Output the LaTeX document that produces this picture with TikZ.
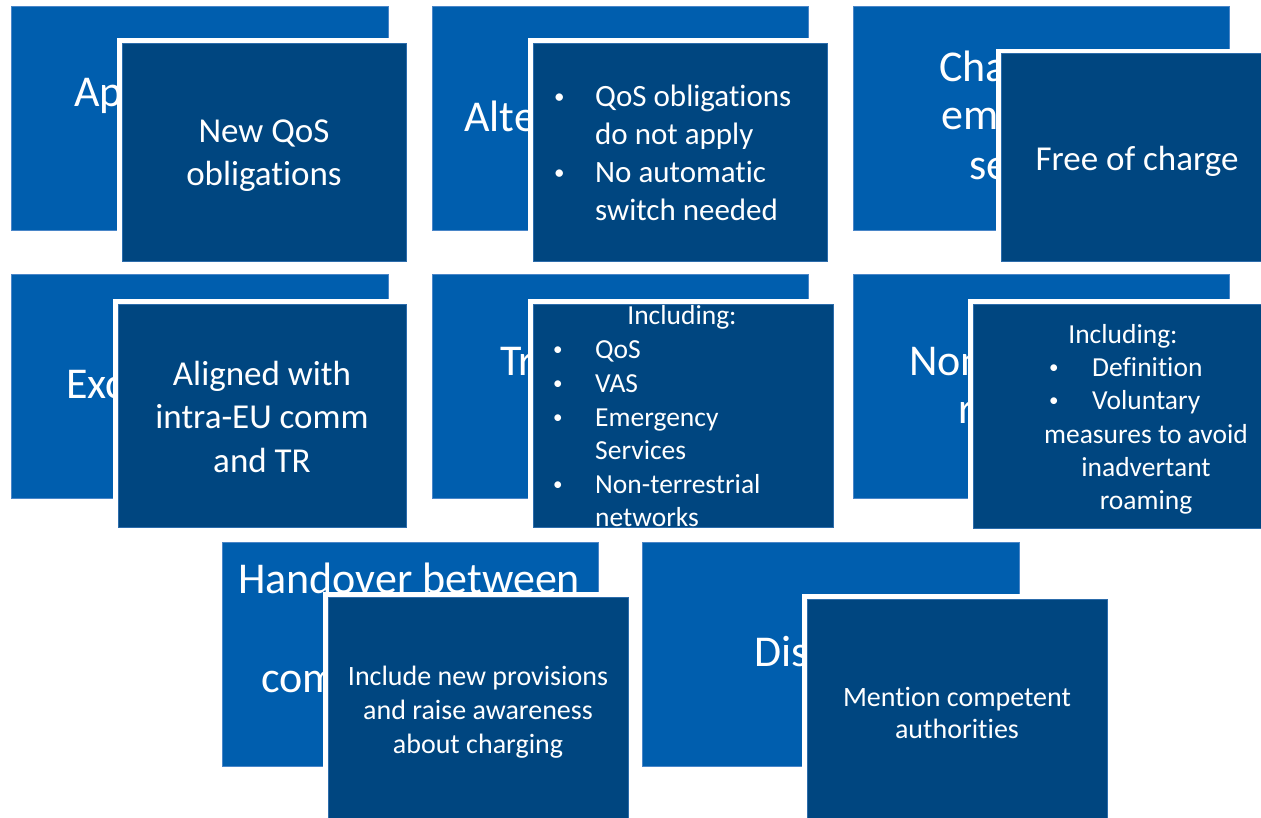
\documentclass[tikz,border=0pt]{standalone}
\usepackage{fontspec}
\setmainfont{Carlito}[Ligatures=NoCommon]
\definecolor{backblue}{HTML}{005EAE}
\definecolor{frontblue}{HTML}{004680}
\definecolor{edgeblue}{HTML}{4A86C8}
\begin{document}
\begin{tikzpicture}[x=1pt,y=-1pt,
  backbox/.style={fill=backblue,draw=edgeblue,line width=0.6pt,inner sep=0pt,outer sep=0pt,anchor=north west},
  frontbox/.style={fill=frontblue,draw=edgeblue!60!frontblue,line width=0.6pt,inner sep=0pt,outer sep=0pt,anchor=north west},
  halo/.style={fill=white,inner sep=0pt,outer sep=0pt,anchor=north west},
  backtxt/.style={text=white,font=\fontsize{44}{49}\selectfont,anchor=base west,inner sep=0pt},
  ftxt/.style={text=white,inner sep=0pt,anchor=base},
  fleft/.style={text=white,inner sep=0pt,anchor=base west},
  bul/.style={text=white,inner sep=0pt,anchor=base west,font=\fontsize{21}{21}\selectfont,yshift=3pt},
  bulsmall/.style={text=white,inner sep=0pt,anchor=base west,font=\fontsize{19}{19}\selectfont,yshift=2.6pt},
  big/.style={font=\fontsize{35}{43}\selectfont},
  mid/.style={font=\fontsize{31}{38}\selectfont},
  small/.style={font=\fontsize{27.5}{33}\selectfont},
  sm/.style={font=\fontsize{28}{34}\selectfont}
]
\useasboundingbox (0,0) rectangle (1261,818);

% ---------- Row 1, box 1 ----------
\node[backbox,minimum width=377pt,minimum height=224pt] (b1) at (11,6) {};
\node[backtxt] (b1t) at (74,107) {App};
\node[halo,minimum width=294pt,minimum height=228pt] (h1) at (117,38) {};
\node[frontbox,minimum width=284pt,minimum height=218pt] (f1) at (122,43) {};
\node[ftxt,big] (f1a) at (264,143) {New QoS};
\node[ftxt,big] (f1b) at (264,186) {obligations};

% ---------- Row 1, box 2 ----------
\node[backbox,minimum width=376pt,minimum height=224pt] (b2) at (432,6) {};
\node[backtxt] (b2t) at (464,132) {Alter};
\node[halo,minimum width=304pt,minimum height=228pt] (h2) at (528,38) {};
\node[frontbox,minimum width=294pt,minimum height=218pt] (f2) at (533,43) {};
\node[bul] (f2u1) at (554,107) {•};
\node[fleft,mid] (f2a) at (595,107) {QoS obligations};
\node[fleft,mid] (f2b) at (595,145) {do not apply};
\node[bul] (f2u2) at (554,183) {•};
\node[fleft,mid] (f2c) at (595,183) {No automatic};
\node[fleft,mid] (f2d) at (595,221) {switch needed};

% ---------- Row 1, box 3 ----------
\node[backbox,minimum width=376pt,minimum height=224pt] (b3) at (853,6) {};
\node[backtxt] (b3a) at (939,82) {Charg};
\node[backtxt] (b3b) at (941,130) {emer};
\node[backtxt] (b3c) at (969,180) {ser};
\node[halo,minimum width=275pt,minimum height=217pt] (h3) at (996,49) {};
\node[frontbox,minimum width=270pt,minimum height=208pt] (f3) at (1001,53) {};
\node[ftxt,big] (f3a) at (1137,171) {Free of charge};

% ---------- Row 2, box 4 ----------
\node[backbox,minimum width=377pt,minimum height=224pt] (b4) at (11,274) {};
\node[backtxt] (b4t) at (66,398) {Exce};
\node[halo,minimum width=298pt,minimum height=233pt] (h4) at (113,299) {};
\node[frontbox,minimum width=288pt,minimum height=223pt] (f4) at (118,304) {};
\node[ftxt,big] (f4a) at (262,385) {Aligned with};
\node[ftxt,big] (f4b) at (262,428) {intra-EU comm};
\node[ftxt,big] (f4c) at (262,472) {and TR};

% ---------- Row 2, box 5 ----------
\node[backbox,minimum width=376pt,minimum height=224pt] (b5) at (432,274) {};
\node[backtxt] (b5t) at (500,375) {Tra};
\node[halo,minimum width=310pt,minimum height=233pt] (h5) at (528,299) {};
\node[frontbox,minimum width=300pt,minimum height=223pt] (f5) at (533,304) {};
\node[ftxt,small] (f5h) at (682,324) {Including:};
\node[bulsmall] (f5u1) at (553,358) {•};
\node[fleft,small] (f5a) at (595,358) {QoS};
\node[bulsmall] (f5u2) at (553,392) {•};
\node[fleft,small] (f5b) at (595,392) {VAS};
\node[bulsmall] (f5u3) at (553,426) {•};
\node[fleft,small] (f5c) at (595,426) {Emergency};
\node[fleft,small] (f5d) at (595,459) {Services};
\node[bulsmall] (f5u4) at (553,493) {•};
\node[fleft,small] (f5e) at (595,493) {Non-terrestrial};
\node[fleft,small] (f5f) at (595,526) {networks};

% ---------- Row 2, box 6 ----------
\node[backbox,minimum width=376pt,minimum height=224pt] (b6) at (853,274) {};
\node[backtxt] (b6a) at (909,375) {Non};
\node[backtxt] (b6b) at (958,423) {r};
\node[halo,minimum width=298pt,minimum height=234pt] (h6) at (968,299) {};
\node[frontbox,minimum width=292pt,minimum height=224pt] (f6) at (973,304) {};
\node[ftxt,small] (f6h) at (1123,343) {Including:};
\node[bulsmall] (f6u1) at (1049,376) {•};
\node[fleft,small] (f6a) at (1092,376) {Definition};
\node[bulsmall] (f6u2) at (1049,409) {•};
\node[fleft,small] (f6b) at (1092,409) {Voluntary};
\node[ftxt,small] (f6c) at (1146,443) {measures to avoid};
\node[ftxt,small] (f6d) at (1146,476) {inadvertant};
\node[ftxt,small] (f6e) at (1146,509) {roaming};

% ---------- Row 3, box 7 ----------
\node[backbox,minimum width=376pt,minimum height=224pt] (b7) at (222,542) {};
\node[backtxt] (b7a) at (238,593) {Handover between};
\node[backtxt] (b7b) at (261,692) {com};
\node[halo,minimum width=310pt,minimum height=240pt] (h7) at (323,592) {};
\node[frontbox,minimum width=300pt,minimum height=230pt] (f7) at (328,597) {};
\node[ftxt,sm] (f7a) at (478,685) {Include new provisions};
\node[ftxt,sm] (f7b) at (478,719) {and raise awareness};
\node[ftxt,sm] (f7c) at (478,753) {about charging};

% ---------- Row 3, box 8 ----------
\node[backbox,minimum width=377pt,minimum height=224pt] (b8) at (642,542) {};
\node[backtxt] (b8t) at (754,666) {Dis};
\node[halo,minimum width=310pt,minimum height=240pt] (h8) at (802,594) {};
\node[frontbox,minimum width=300pt,minimum height=230pt] (f8) at (807,599) {};
\node[ftxt,sm] (f8a) at (957,706) {Mention competent};
\node[ftxt,sm] (f8b) at (957,738) {authorities};
\end{tikzpicture}
\end{document}
